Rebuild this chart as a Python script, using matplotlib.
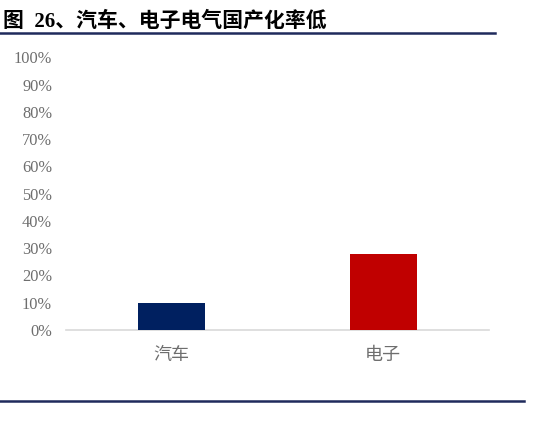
import matplotlib
matplotlib.use('Agg')
import matplotlib.pyplot as plt
import numpy as np

# data
categories = ['汽车', '电子']
values = [0.10, 0.28]
bar_colors = ['#002060', '#C00000']
y_ticks = np.arange(0, 1.01, 0.1)
y_tick_labels = ['{}%'.format(int(round(t * 100))) for t in y_ticks]
title = '图  26、汽车、电子电气国产化率低'

fig = plt.figure(figsize=(5.54, 4.34), dpi=100)
ax = fig.add_axes([0.119, 0.2396, 0.7637, 0.6284])

x = np.arange(len(categories))
ax.bar(x, values, width=0.317, color=bar_colors, zorder=3)

ax.set_xlim(-0.5, len(categories) - 0.5)
ax.set_ylim(0, 1)
ax.set_yticks(y_ticks)
ax.set_yticklabels(y_tick_labels, fontfamily='Liberation Serif', fontsize=11.8, color='#6E6E6E')
ax.set_xticks(x)
ax.set_xticklabels(categories, fontfamily=['Noto Sans CJK SC', 'DejaVu Sans'], fontsize=13, color='#6E6E6E')
ax.tick_params(axis='y', length=0, pad=10)
ax.tick_params(axis='x', length=0, pad=11.5)

for side in ['top', 'right', 'left']:
    ax.spines[side].set_visible(False)
ax.spines['bottom'].set_color('#D9D9D9')
ax.spines['bottom'].set_linewidth(1.2)

# title and the two rule lines of the report figure
fig.text(0.006, 0.938, title, fontsize=15, fontweight='bold',
         family=['Liberation Serif', 'Noto Sans CJK SC'], color='black', va='baseline')
fig.add_artist(plt.Line2D([0, 495 / 554], [1 - 33 / 434] * 2, color='#1F2A5C', lw=1.8))
fig.add_artist(plt.Line2D([0, 524 / 554], [1 - 401 / 434] * 2, color='#1F2A5C', lw=1.8))

fig.savefig('out.png', dpi=100)
